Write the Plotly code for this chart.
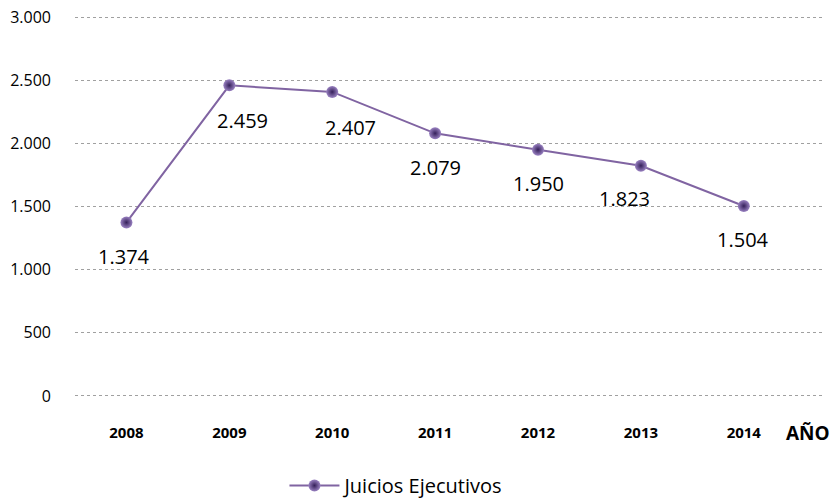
import plotly.graph_objects as go

years = ["2008", "2009", "2010", "2011", "2012", "2013", "2014"]
values = [1374, 2459, 2407, 2079, 1950, 1823, 1504]
labels = ["1.374", "2.459", "2.407", "2.079", "1.950", "1.823", "1.504"]
series_name = "Juicios Ejecutivos"

label_dx = [-2, 13, 18, 0, 0, -16, -1]
label_dy = [-34, -35, -36, -34, -34, -33, -34]

font = "Open Sans, Liberation Sans, Arial, sans-serif"

fig = go.Figure()
fig.add_trace(go.Scatter(
    x=list(range(len(years))), y=values, name=series_name,
    mode="lines+markers",
    line=dict(color="#8064A2", width=2),
    marker=dict(size=12, color="#9A82C2",
                gradient=dict(type="radial", color="#35205A"),
                line=dict(width=0)),
))

for i, (v, t) in enumerate(zip(values, labels)):
    fig.add_annotation(x=i, y=v, text=t, showarrow=False,
                       xshift=label_dx[i], yshift=label_dy[i],
                       font=dict(family=font, size=20, color="#000000"))

fig.add_annotation(xref="paper", yref="paper", x=1.0, y=0, xshift=10, yshift=-35,
                   xanchor="right", yanchor="middle", text="<b>AÑO</b>",
                   showarrow=False, font=dict(family=font, size=19, color="#000000"))

fig.update_layout(
    width=834, height=499,
    margin=dict(l=75, r=12, t=15, b=101, autoexpand=False),
    paper_bgcolor="white", plot_bgcolor="white",
    separators=",.",
    showlegend=True,
    legend=dict(orientation="h", x=0.431, xanchor="center",
                yref="container", y=0.027, yanchor="middle", itemwidth=50,
                font=dict(family=font, size=20, color="#000000")),
    font=dict(family=font, color="#000000"),
)
fig.update_xaxes(
    range=[-0.5, 6.76], tickmode="array", tickvals=list(range(len(years))), ticktext=years,
    showgrid=False, zeroline=False, showline=False, ticks="",
    tickfont=dict(family=font, size=15, color="#000000", weight="bold"),
    ticklabelstandoff=24,
)
fig.update_yaxes(
    range=[-16, 3016], dtick=500, tickformat=",d",
    showgrid=True, gridcolor="#a0a0a0", griddash="dot", gridwidth=1,
    zeroline=False, showline=False, ticks="",
    tickfont=dict(family=font, size=16, color="#000000"),
    ticklabelstandoff=23,
)

fig.write_html("out.html", config={"displayModeBar": False},
               post_script="document.body.style.margin='0';")
